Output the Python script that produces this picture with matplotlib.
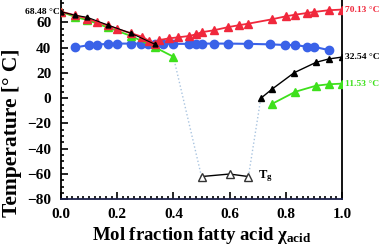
import matplotlib
matplotlib.use("Agg")
import matplotlib.pyplot as plt
from matplotlib.ticker import MultipleLocator

plt.rcParams['font.family'] = ['Liberation Serif', 'DejaVu Serif']
plt.rcParams['font.weight'] = 'bold'
plt.rcParams['mathtext.fontset'] = 'custom'
plt.rcParams['mathtext.rm'] = 'Liberation Serif:bold'
plt.rcParams['mathtext.it'] = 'Liberation Serif:italic:bold'
plt.rcParams['mathtext.bf'] = 'Liberation Serif:bold'

# ---- data ----
red_x = [0.0, 0.05, 0.094, 0.127, 0.166, 0.2, 0.25, 0.287, 0.312, 0.335, 0.35, 0.383, 0.418, 0.455,
         0.48, 0.5, 0.543, 0.596, 0.632, 0.667, 0.75, 0.8, 0.834, 0.875, 0.9, 0.952, 1.0]
red_t = [68.48, 65.6, 63.0, 60.3, 57.6, 54.8, 51.4, 48.7, 45.6, 43.0, 46.0, 47.3, 48.2, 49.2,
         50.5, 52.2, 53.7, 56.3, 57.7, 59.0, 62.4, 64.8, 66.1, 67.4, 68.2, 69.6, 70.13]

black_l_x = [0.0, 0.05, 0.094, 0.168, 0.25, 0.335]
black_l_t = [68.48, 65.6, 64.0, 57.8, 51.3, 42.6]

green_l_x = [0.0, 0.05, 0.094, 0.166, 0.25, 0.335, 0.4]
green_l_t = [68.48, 64.3, 61.8, 56.0, 49.2, 40.2, 32.8]

blue_x = [0.05, 0.1, 0.127, 0.166, 0.2, 0.25, 0.286, 0.311, 0.335, 0.364, 0.398, 0.455, 0.48,
          0.5, 0.543, 0.596, 0.667, 0.745, 0.798, 0.834, 0.875, 0.9, 0.952]
blue_t = [40.2, 42.0, 42.4, 43.0, 43.2, 43.2, 43.2, 43.2, 43.0, 43.0, 43.0, 43.0, 43.0,
          43.2, 43.2, 43.2, 43.0, 42.6, 42.1, 42.1, 40.7, 40.7, 38.1]

black_r_x = [0.711, 0.75, 0.83, 0.908, 0.952, 1.0]
black_r_t = [-0.1, 7.0, 20.2, 28.4, 31.0, 32.54]

green_r_x = [0.75, 0.834, 0.908, 0.952, 1.0]
green_r_t = [-4.6, 5.1, 9.9, 11.0, 11.53]

tg_x = [0.5, 0.6, 0.667]
tg_t = [-62.0, -60.0, -62.0]

dot1_x = [0.4, 0.5]
dot1_t = [32.8, -62.0]
dot2_x = [0.667, 0.711]
dot2_t = [-62.0, -0.1]

# ---- colours ----
RED = '#f0283c'
GREEN = '#3ee01c'
BLUE = '#3a62e8'
DOT = '#a9c4e0'

fig = plt.figure(figsize=(3.9, 2.49), dpi=100)
ax = fig.add_axes([61/390, 1 - 199.3/249, (342-61)/390, 199.3/249])

ax.plot(dot1_x, dot1_t, ':', color=DOT, lw=1.0, zorder=1)
ax.plot(dot2_x, dot2_t, ':', color=DOT, lw=1.0, zorder=1)

ax.plot(blue_x, blue_t, '-o', color=BLUE, ms=6, lw=1.5, zorder=2)
ax.plot(green_l_x, green_l_t, '-^', color=GREEN, ms=5.5, lw=1.3, zorder=3)
ax.plot(green_r_x, green_r_t, '-^', color=GREEN, ms=5.5, lw=1.3, zorder=3)
ax.plot(red_x, red_t, '-^', color=RED, ms=5.5, lw=1.3, zorder=4)
ax.plot(black_l_x, black_l_t, '-^', color='black', ms=3.5, lw=0.8, zorder=5)
ax.plot(black_r_x, black_r_t, '-^', color='black', ms=5, lw=1.0, zorder=5)
ax.plot(tg_x, tg_t, '-^', color='black', mfc='white', mec='#333333', ms=5.5, lw=1.0, zorder=5)

ax.set_xlim(0, 1.0)
ax.set_ylim(-80, 77.7)
ax.xaxis.set_minor_locator(MultipleLocator(0.02))
ax.yaxis.set_minor_locator(MultipleLocator(5))
ax.set_xticks([0, 0.2, 0.4, 0.6, 0.8, 1.0])
ax.set_xticklabels(['0.0', '0.2', '0.4', '0.6', '0.8', '1.0'])
ax.set_yticks([-80, -60, -40, -20, 0, 20, 40, 60])
ax.tick_params(which='both', direction='in', labelsize=11, width=1.2)
ax.tick_params(which='major', length=5)
ax.tick_params(which='minor', length=2.5)
ax.tick_params(axis='x', pad=6)
ax.tick_params(axis='y', pad=7)
for lab in ax.get_xticklabels() + ax.get_yticklabels():
    lab.set_fontweight('bold')

ax.spines['top'].set_visible(False)
for s in ['left', 'bottom', 'right']:
    ax.spines[s].set_linewidth(1.3)
ax.spines['bottom'].set_color('#1a1f4a')

ax.set_ylabel('Temperature [° C]', fontsize=15.5, fontweight='bold')
ax.yaxis.set_label_coords(-0.14, 1 - 133 / 199.3)
ax.set_xlabel(r'Mol fraction fatty acid $\mathrm{χ}_{\mathrm{acid}}$', fontsize=13.5,
              fontweight='bold', labelpad=3)

ax.text(-0.003, red_t[0], '68.48 °C', ha='right', va='center', fontsize=6.8,
        fontweight='bold', color='black', clip_on=False)
ax.text(1.012, red_t[-1], '70.13 °C', ha='left', va='center', fontsize=6.8,
        fontweight='bold', color=RED, clip_on=False)
ax.text(1.012, black_r_t[-1], '32.54 °C', ha='left', va='center', fontsize=6.8,
        fontweight='bold', color='black', clip_on=False)
ax.text(1.012, green_r_t[-1], '11.53 °C', ha='left', va='center', fontsize=6.8,
        fontweight='bold', color=GREEN, clip_on=False)
ax.text(0.7, tg_t[-1] + 0.5, r'T$_\mathrm{g}$', ha='left', va='center', fontsize=9,
        fontweight='bold', color='black')

fig.savefig('out.png', dpi=100)
